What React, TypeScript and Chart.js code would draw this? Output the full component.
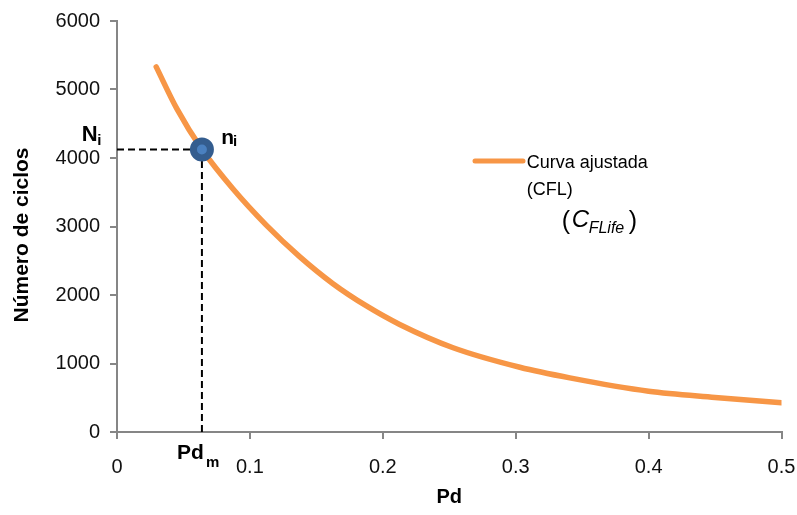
import React, { useEffect, useRef } from "react";
import { Chart, registerables } from "chart.js";

Chart.register(...registerables);

// Fitted curve (CFL): Pd vs. number of cycles
const pdValues = [0.0295, 0.045, 0.0639, 0.0872, 0.1123, 0.1374, 0.1625, 0.1877, 0.2127, 0.2529, 0.3031, 0.3407, 0.4, 0.45, 0.5];
const cycleValues = [5330, 4720, 4125, 3550, 3020, 2560, 2165, 1840, 1570, 1230, 945, 790, 595, 505, 428];

// Marked point (Pd_m, N_i)
const markerPdValues = [0.0639];
const markerCycleValues = [4125];

// Axis ticks
const xTickValues = [0, 0.1, 0.2, 0.3, 0.4, 0.5];
const xTickLabels = ["0", "0.1", "0.2", "0.3", "0.4", "0.5"];
const yTickValues = [0, 1000, 2000, 3000, 4000, 5000, 6000];
const yTickLabels = ["0", "1000", "2000", "3000", "4000", "5000", "6000"];

const legendLine1 = "Curva ajustada";
const legendLine2 = "(CFL)";
const xTitle = "Pd";
const yTitle = "Número de ciclos";

const FONT = '"Liberation Sans", Arial, sans-serif';
const ORANGE = "#F79646";
const AXIS_GRAY = "#868686";

const overlayPlugin = {
  id: "overlay",
  afterDraw(chart: any) {
    const { ctx, chartArea, scales } = chart;
    const xs = scales.x;
    const ys = scales.y;
    const mx = xs.getPixelForValue(markerPdValues[0]);
    const my = ys.getPixelForValue(markerCycleValues[0]);
    const L = chartArea.left;
    const T = chartArea.top;
    const B = chartArea.bottom;
    ctx.save();
    ctx.fillStyle = "#000";
    ctx.textAlign = "left";
    ctx.textBaseline = "alphabetic";

    // N_i
    ctx.font = `bold 22px ${FONT}`;
    ctx.fillText("N", L - 35.3, my - 8.3);
    ctx.font = `bold 15px ${FONT}`;
    ctx.fillText("i", L - 19.7, my - 4.3);

    // n_i
    ctx.font = `bold 21px ${FONT}`;
    ctx.fillText("n", mx + 19.4, my - 5);
    ctx.font = `bold 15px ${FONT}`;
    ctx.fillText("i", mx + 31, my - 3.3);

    // Pd_m
    ctx.font = `bold 21px ${FONT}`;
    ctx.fillText("Pd", mx - 25, B + 27);
    ctx.font = `bold 15px ${FONT}`;
    ctx.fillText("m", mx + 4, B + 35);

    // Legend
    const lx = L + 358;
    const ly = T + 140;
    ctx.strokeStyle = ORANGE;
    ctx.lineWidth = 5;
    ctx.lineCap = "round";
    ctx.beginPath();
    ctx.moveTo(lx, ly);
    ctx.lineTo(lx + 48, ly);
    ctx.stroke();
    ctx.font = `18px ${FONT}`;
    ctx.fillText(legendLine1, lx + 51.7, ly + 7.3);
    ctx.fillText(legendLine2, lx + 51.7, ly + 33.5);

    // (C_FLife)
    const cx = lx + 86.7;
    const cy = ly + 66.3;
    ctx.font = `25px ${FONT}`;
    ctx.fillText("(", cx, cy + 2);
    ctx.font = `italic 24px ${FONT}`;
    ctx.fillText("C", cx + 10, cy);
    ctx.font = `italic 16px ${FONT}`;
    ctx.fillText("FLife", cx + 27, cy + 6);
    ctx.font = `25px ${FONT}`;
    ctx.fillText(")", cx + 67, cy + 2);

    // Y axis title
    ctx.save();
    ctx.translate(22.5, (T + B) / 2 + 8.5);
    ctx.rotate(-Math.PI / 2);
    ctx.textAlign = "center";
    ctx.textBaseline = "middle";
    ctx.font = `bold 21px ${FONT}`;
    ctx.fillText(yTitle, 0, 0);
    ctx.restore();

    ctx.restore();
  },
};

export default function App() {
  const canvasRef = useRef<HTMLCanvasElement | null>(null);

  useEffect(() => {
    const canvas = canvasRef.current;
    if (!canvas) return;
    const curve = pdValues.map((x, i) => ({ x, y: cycleValues[i] }));
    const marker = markerPdValues.map((x, i) => ({ x, y: markerCycleValues[i] }));
    const hDash = [
      { x: xTickValues[0], y: markerCycleValues[0] },
      { x: markerPdValues[0], y: markerCycleValues[0] },
    ];
    const vDash = [
      { x: markerPdValues[0], y: yTickValues[0] },
      { x: markerPdValues[0], y: markerCycleValues[0] },
    ];

    const chart = new Chart(canvas, {
      type: "scatter",
      data: {
        datasets: [
          {
            label: "marker",
            data: marker,
            pointRadius: 8.5,
            pointBorderWidth: 7,
            pointBorderColor: "#345D8F",
            pointBackgroundColor: "#4A80C0",
            showLine: false,
            order: 0,
          },
          {
            label: "Curva ajustada (CFL)",
            data: curve,
            showLine: true,
            borderColor: ORANGE,
            borderWidth: 5.5,
            borderCapStyle: "round",
            cubicInterpolationMode: "monotone",
            pointRadius: 0,
            order: 1,
          },
          {
            label: "h",
            data: hDash,
            showLine: true,
            borderColor: "#000",
            borderWidth: 2,
            borderDash: [7, 4],
            pointRadius: 0,
            order: 2,
          },
          {
            label: "v",
            data: vDash,
            showLine: true,
            borderColor: "#000",
            borderWidth: 2,
            borderDash: [7, 4],
            pointRadius: 0,
            order: 2,
          },
        ],
      },
      options: {
        responsive: false,
        animation: false,
        devicePixelRatio: 1,
        layout: { padding: { top: 21, right: 15, left: 0, bottom: 0 } },
        plugins: {
          legend: { display: false },
          tooltip: { enabled: false },
        },
        scales: {
          x: {
            type: "linear",
            min: 0,
            max: 0.5,
            afterFit: (s: any) => {
              s.height = 83;
              s.paddingLeft = 0;
              s.paddingRight = 0;
            },
            afterBuildTicks: (s: any) => {
              s.ticks = xTickValues.map((v) => ({ value: v }));
            },
            ticks: {
              autoSkip: false,
              maxRotation: 0,
              padding: 16,
              color: "#111",
              font: { family: FONT, size: 20 },
              callback: (_v: any, i: number) => xTickLabels[i],
            },
            grid: {
              display: true,
              drawOnChartArea: false,
              drawTicks: true,
              tickLength: 7,
              color: AXIS_GRAY,
              lineWidth: 2,
            },
            border: { display: true, color: AXIS_GRAY, width: 2 },
            title: {
              display: true,
              text: xTitle,
              color: "#000",
              font: { family: FONT, size: 20, weight: "bold" },
              padding: { top: 0, bottom: 6 },
            },
          },
          y: {
            type: "linear",
            min: 0,
            max: 6000,
            afterFit: (s: any) => {
              s.width = 117;
              s.paddingTop = 0;
              s.paddingBottom = 0;
            },
            afterBuildTicks: (s: any) => {
              s.ticks = yTickValues.map((v) => ({ value: v }));
            },
            ticks: {
              autoSkip: false,
              padding: 10,
              color: "#111",
              font: { family: FONT, size: 20 },
              callback: (_v: any, i: number) => yTickLabels[i],
            },
            grid: {
              display: true,
              drawOnChartArea: false,
              drawTicks: true,
              tickLength: 7,
              color: AXIS_GRAY,
              lineWidth: 2,
            },
            border: { display: true, color: AXIS_GRAY, width: 2 },
          },
        },
      },
      plugins: [overlayPlugin],
    } as any);

    return () => {
      chart.destroy();
    };
  }, []);

  return (
    <div style={{ position: "fixed", left: 0, top: 0, width: 797, height: 515, background: "#fff" }}>
      <canvas ref={canvasRef} width={797} height={515} style={{ display: "block" }} />
    </div>
  );
}
